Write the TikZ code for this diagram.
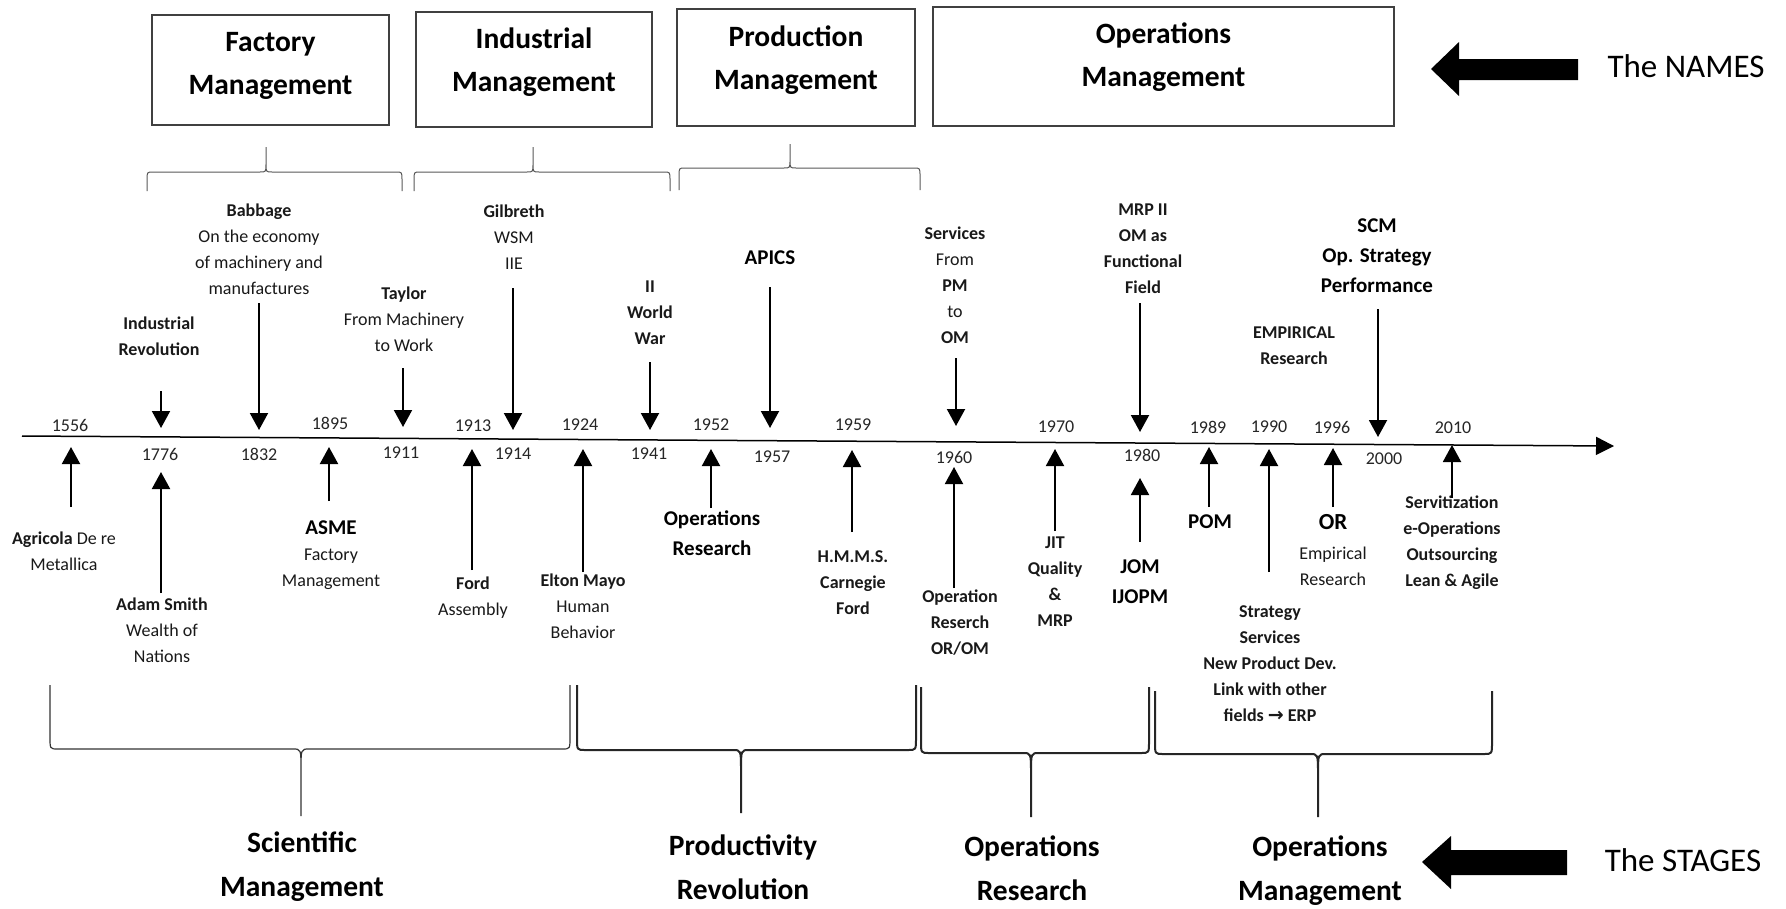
\documentclass[tikz,border=0pt]{standalone}
\usepackage{fontspec}
\setmainfont{Carlito}
\newfontfamily\symf{DejaVu Sans}
\usetikzlibrary{arrows.meta}
\newcommand\fsz[2]{\fontsize{#1}{#2}\selectfont}
\newcommand\CBrace[9]{\draw[curbrace] (#1,#4) -- (#1,#7) .. controls (#1,#5) .. ({#1+#9},#5) -- ({#3-#9},#5) .. controls (#3,#5) .. (#3,#8) -- (#3,#6) (#3,#8) .. controls (#3,#5) .. ({#3+#9},#5) -- ({#2-#9},#5) .. controls (#2,#5) .. (#2,#7) -- (#2,#4);}
\begin{document}
\begin{tikzpicture}[x=1pt,y=-1pt,
  sm/.style={font=\fsz{18}{26}, align=center, inner sep=0pt, text=black!90},
  smb/.style={sm, font=\fsz{18}{26}\bfseries},
  bg/.style={font=\fsz{21}{30}\bfseries, align=center, inner sep=0pt},
  yr/.style={font=\fsz{18}{22}, inner sep=0pt, text=black!85},
  namebox/.style={draw=black!75, line width=1.3pt, inner sep=0pt},
  boxt/.style={font=\fsz{29.5}{43}\bfseries, align=center, inner sep=0pt},
  stage/.style={font=\fsz{29.5}{44}\bfseries, align=center, inner sep=0pt},
  side/.style={font=\fsz{33}{40}, inner sep=0pt},
  darr/.style={line width=2pt, -{Triangle[width=18pt,length=17pt]}},
  axisline/.style={line width=1.5pt, -{Triangle[width=18pt,length=18pt]}},
  curbrace/.style={draw=black!65, line width=1pt},
  bigarrow/.style={fill=black}]
\fill[white] (0,0) rectangle (1786,908);
\useasboundingbox (0,0) rectangle (1786,908);

% ---- name boxes
\node[namebox, minimum width=237pt, minimum height=110pt] (b1) at (270.5,70) {};
\node[namebox, minimum width=236pt, minimum height=115pt] (b2) at (534,69.5) {};
\node[namebox, minimum width=238pt, minimum height=117pt] (b3) at (796,67.5) {};
\node[namebox, minimum width=461pt, minimum height=119pt] (b4) at (1163.5,66.5) {};
\node[boxt] (n1) at (270.5,65.5) {Factory\\Management};
\node[boxt] (n2) at (534,62) {Industrial\\Management};
\node[boxt] (n3) at (796,60) {Production\\Management};
\node[boxt] (n4) at (1163.5,57) {Operations\\Management};

% ---- top braces
\CBrace{147}{402}{266}{191}{172}{147}{180}{164}{6}
\CBrace{414}{670}{533}{191}{172}{147}{180}{164}{6}
\CBrace{679}{920}{790}{190}{168}{144}{176}{160}{6}

% ---- timeline axis
\coordinate (ax0) at (22,436);
\coordinate (ax1) at (1614,446);
\draw[axisline] (ax0) -- (ax1);

% ---- years
\foreach \t/\x/\y in {1556/70/425, 1895/330/423, 1913/473/426, 1924/580/425,
  1952/711/425, 1959/853/425, 1970/1056/427, 1989/1208/427, 1990/1269/427,
  1996/1332/427, 2010/1453/428, 1776/160/454, 1832/259/454, 1911/401/453,
  1914/513/454, 1941/649/454, 1957/772/457, 1960/954/457, 1980/1142/455, 2000/1384/459}
  \node[yr] (y\t) at (\x,\y) {\t};

% ---- labels above
\node[smb] (lIR) at (159,336.5) {Industrial\\Revolution};
\node[sm] (lBab) at (259,249.5) {\textbf{Babbage}\\On the economy\\of machinery and\\manufactures};
\node[sm] (lTay) at (404,319) {\textbf{Taylor}\\From Machinery\\to Work};
\node[sm] (lGil) at (514,237) {\textbf{Gilbreth}\\WSM\\IIE};
\node[smb] (lWW) at (650,313) {II\\World\\War};
\node[bg] (lAP) at (770,258) {APICS};
\node[sm] (lSer) at (955,285) {\textbf{Services}\\From\\\textbf{PM}\\to\\\textbf{OM}};
\node[smb] (lMRP) at (1143,248.5) {MRP II\\OM as\\Functional\\Field};
\node[bg] (lSCM) at (1377,256) {SCM\\Op. Strategy\\Performance};
\node[smb] (lEmp) at (1294,346) {EMPIRICAL\\Research};

% ---- labels below
\node[sm] (lAgr) at (64,551.5) {\textbf{Agricola} De re\\Metallica};
\node[sm] (lAS) at (162,630) {\textbf{Adam Smith}\\Wealth of\\Nations};
\node[bg] (lASME) at (331,528) {ASME};
\node[sm] (lASMEd) at (331,569) {Factory\\Management};
\node[sm] (lFord) at (473,597.5) {\textbf{Ford}\\Assembly};
\node[sm] (lMayo) at (583,606) {\textbf{Elton Mayo}\\Human\\Behavior};
\node[bg] (lOpR) at (712,533) {Operations\\Research};
\node[smb] (lHM) at (853,583) {H.M.M.S.\\Carnegie\\Ford};
\node[smb] (lORM) at (960,622.5) {Operation\\Reserch\\OR/OM};
\node[smb] (lJIT) at (1055,582) {JIT\\Quality\\\&\\MRP};
\node[bg] (lJOM) at (1140,582) {JOM\\IJOPM};
\node[bg] (lPOM) at (1210,522) {POM};
\node[smb] (lStr) at (1270,664) {Strategy\\Services\\New Product Dev.\\Link with other\\fields {\symf\fsz{19}{26}→} ERP};
\node[bg, font=\fsz{23}{30}\bfseries] (lOR) at (1333,522) {OR};
\node[sm] (lORd) at (1333,566) {Empirical\\Research};
\node[smb] (lServ) at (1452,542.5) {Servitization\\e-Operations\\Outsourcing\\Lean \& Agile};

% ---- event arrows (tail -> tip)
\foreach \n/\x/\ya/\yb in {IR/161/391/428, Bab/259/303/430, Tay/403/368/427,
  Gil/513/288/430, WW/650/362/430, AP/770/287/428, Ser/956/358/426,
  MRP/1140/303/432, SCM/1378/309/437,
  Agr/71/507/447, AS/161/593/472, ASME/329/501/447, Ford/472/570/449,
  Mayo/583/572/449, OpR/711/508/449, HM/852/532/450, ORM/954/588/467,
  JIT/1055/531/449, JOM/1140/542/478, POM/1209/507/447, Str/1269/572/449,
  OR/1333/507/448, Serv/1452/498/445}
  {\coordinate (\n-a) at (\x,\ya); \coordinate (\n-b) at (\x,\yb);
   \draw[darr] (\n-a) -- (\n-b);}

% ---- bottom braces
\tikzset{curbrace/.style={draw=black!80, line width=1.2pt}}
\CBrace{50}{570}{301}{685}{749}{816}{737}{770}{8}
\tikzset{curbrace/.style={draw=black!85, line width=2pt}}
\CBrace{577}{916}{741}{685}{750}{813}{738}{771}{8}
\CBrace{921}{1149}{1031}{687}{753}{817}{741}{774}{8}
\CBrace{1155}{1492}{1318}{691}{754}{817}{742}{775}{8}

% ---- stages
\node[stage] (sSM) at (302,867) {Scientific\\Management};
\node[stage] (sPR) at (743,867) {Productivity\\Revolution};
\node[stage] (sOR) at (1032,868.5) {Operations\\Research};
\node[stage] (sOM) at (1320,871) {Operations\\Management};

% ---- side captions and block arrows
\node[side] (tNames) at (1686,66) {The NAMES};
\node[side] (tStages) at (1683,860) {The STAGES};
\fill[bigarrow] (1431,69) -- (1459,42) -- (1459,59) -- (1578,59) -- (1578,80) -- (1459,80) -- (1459,96) -- cycle;
\fill[bigarrow] (1422,862) -- (1451,836) -- (1451,850) -- (1567,850) -- (1567,875) -- (1451,875) -- (1451,889) -- cycle;
\end{tikzpicture}
\end{document}
